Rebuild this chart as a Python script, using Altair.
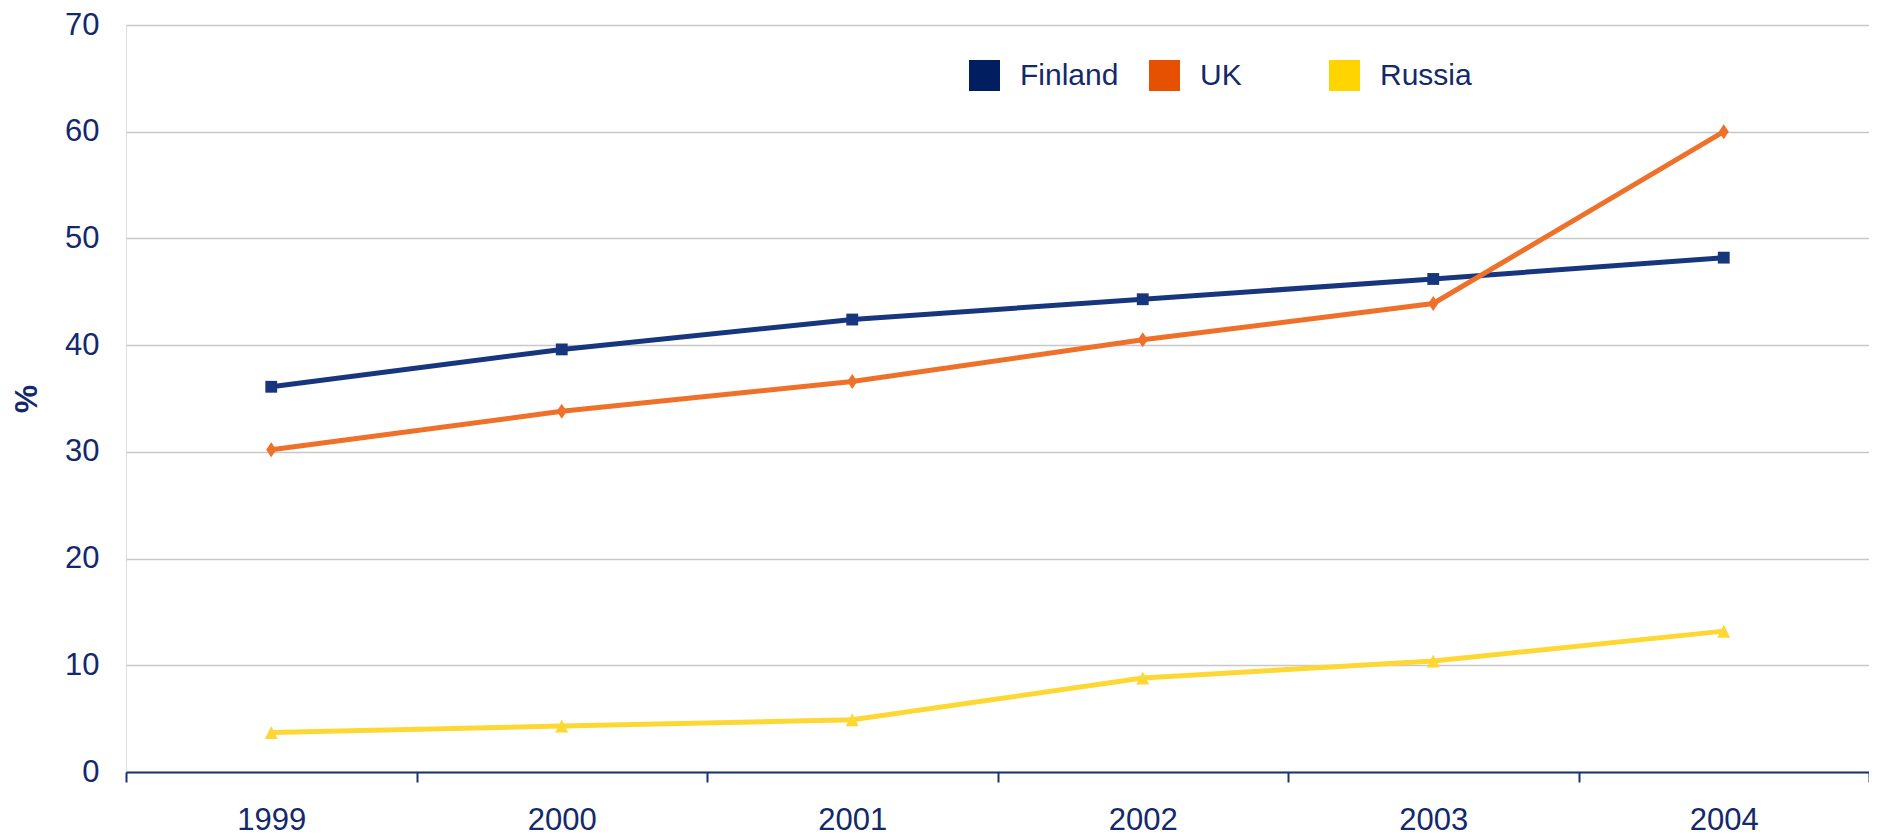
import altair as alt
import pandas as pd

years = ["1999", "2000", "2001", "2002", "2003", "2004"]
countries = ["Finland", "UK", "Russia"]
finland = [36.1, 39.6, 42.4, 44.3, 46.2, 48.2]
uk = [30.2, 33.8, 36.6, 40.5, 43.9, 60.0]
russia = [3.7, 4.3, 4.9, 8.8, 10.4, 13.2]

line_colors = ["#17367d", "#ee7029", "#fdd835"]
legend_colors = ["#001e60", "#e55100", "#ffd400"]
shapes = ["M-1,-1L1,-1L1,1L-1,1Z", "M0,-1L0.67,0L0,1L-0.67,0Z", "M0,-1L1,1L-1,1Z"]
marker_sizes = [140, 225, 169]

rows = []
for name, vals in zip(countries, [finland, uk, russia]):
    for y, v in zip(years, vals):
        rows.append({"Year": y, "Country": name, "Value": v})
df = pd.DataFrame(rows)

TEXT = "#13296b"
FONT = "Liberation Sans"

x = alt.X("Year:N", sort=years,
          scale=alt.Scale(paddingInner=0, paddingOuter=0),
          axis=alt.Axis(title=None, tickBand="extent", labelAngle=0,
                        domainColor="#1a3370", domainWidth=2,
                        tickColor="#1a3370", tickWidth=2, tickSize=10,
                        labelPadding=23, labelFontSize=31, labelColor=TEXT,
                        labelFont=FONT, grid=False))
y = alt.Y("Value:Q",
          scale=alt.Scale(domain=[0, 70], nice=False),
          axis=alt.Axis(title="%", values=[0, 10, 20, 30, 40, 50, 60, 70],
                        domain=False, ticks=False, tickSize=0,
                        labelPadding=27, labelFontSize=31, labelColor=TEXT,
                        labelFont=FONT, titleFont=FONT, titleFontSize=32,
                        titleFontWeight="bold", titleColor=TEXT,
                        titlePadding=21, gridColor="#c8c8c8", gridWidth=1.5))

legend_layer = alt.Chart(df).mark_square(opacity=0).encode(
    x=x, y=y,
    fill=alt.Fill("Country:N", scale=alt.Scale(domain=countries, range=legend_colors),
                  legend=alt.Legend(title=None, orient="none", legendX=843, legendY=35,
                                    direction="horizontal", columns=3, gridAlign="all",
                                    symbolType="square", symbolSize=961,
                                    symbolStrokeWidth=0, symbolOpacity=1,
                                    labelFontSize=30, labelFont=FONT, labelColor=TEXT,
                                    labelOffset=20, columnPadding=30, padding=0,
                                    labelLimit=400)),
)

layers = [legend_layer]
for name, lc in zip(countries, line_colors):
    base = alt.Chart(df).transform_filter(alt.datum.Country == name)
    layers.append(base.mark_line(strokeWidth=5, color=lc).encode(x=x, y=y))
for name, lc, shp, sz in zip(countries, line_colors, shapes, marker_sizes):
    base = alt.Chart(df).transform_filter(alt.datum.Country == name)
    layers.append(base.mark_point(filled=True, opacity=1, strokeWidth=0,
                                  color=lc, shape=shp, size=sz).encode(x=x, y=y))

chart = alt.layer(*layers).properties(
    width=1743, height=747,
    autosize=alt.AutoSizeParams(type="none"),
    padding={"left": 118, "top": 17, "right": 0, "bottom": 64},
).configure_view(stroke=None).configure(background="white")

chart.save("out.html", embed_options={"renderer": "svg", "actions": False})
